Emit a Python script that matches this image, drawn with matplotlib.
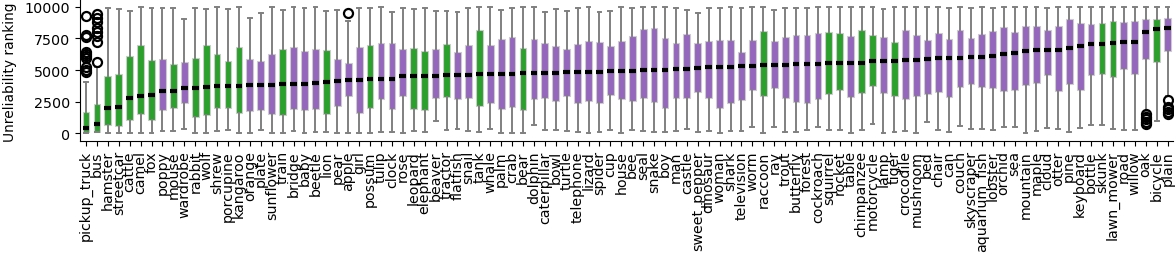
import matplotlib
matplotlib.use("Agg")
import matplotlib.pyplot as plt

classes = ["pickup_truck", "bus", "hamster", "streetcar", "cattle", "camel", "fox", "poppy", "mouse", "wardrobe",
           "rabbit", "wolf", "shrew", "porcupine", "kangaroo", "orange", "plate", "sunflower", "train", "bridge",
           "baby", "beetle", "lion", "pear", "apple", "girl", "possum", "tulip", "clock", "rose",
           "leopard", "elephant", "beaver", "tractor", "flatfish", "snail", "tank", "whale", "palm", "crab",
           "bear", "dolphin", "caterpillar", "bowl", "turtle", "telephone", "lizard", "spider", "cup", "house",
           "bee", "seal", "snake", "boy", "man", "castle", "sweet_pepper", "dinosaur", "woman", "shark",
           "television", "worm", "raccoon", "ray", "trout", "butterfly", "forest", "cockroach", "squirrel", "rocket",
           "table", "chimpanzee", "motorcycle", "lamp", "tiger", "crocodile", "mushroom", "bed", "chair", "can",
           "couch", "skyscraper", "aquarium_fish", "lobster", "orchid", "sea", "mountain", "maple", "cloud", "otter",
           "pine", "keyboard", "bottle", "skunk", "lawn_mower", "road", "willow", "oak", "bicycle", "plain"]

group = list("GGGGGGGPGP" "GGGGGPPPGP" "PPGPPPGPPP" "GGPGPPGPPP" "GPPPPPPPPP"
             "PPPPPPPPPP" "PPGPPPPPGG" "PGGPGPPPPP" "PPPPPPPPPP" "PPPGGPPPGP")

whislo = [0, 50, 0, 0, 0, 0, 0, 130, 130, 290,
          0, 0, 130, 265, 0, 0, 210, 0, 0, 130,
          0, 50, 50, 0, 0, 0, 0, 50, 50, 0,
          130, 50, 930, 210, 290, 130, 50, 290, 0, 0,
          0, 660, 210, 210, 130, 50, 0, 50, 210, 0,
          210, 130, 50, 50, 130, 290, 50, 130, 0, 130,
          130, 450, 0, 450, 50, 50, 210, 450, 210, 210,
          0, 210, 690, 0, 50, 130, 0, 850, 210, 50,
          530, 290, 290, 210, 450, 450, 0, 130, 370, 290,
          50, 370, 610, 610, 290, 210, 210, 1640, 930, 2910]
q1 = [53, 60, 635, 582, 1058, 1534, 1005, 1852, 1958, 2407,
      1243, 1402, 1958, 2011, 1561, 1772, 1852, 1534, 1455, 1878,
      1852, 1931, 1481, 2169, 2963, 1614, 1958, 2725, 1878, 2963,
      1878, 1799, 2804, 2884, 2672, 2804, 2169, 2407, 1931, 2090,
      1799, 2725, 2804, 2566, 2963, 2407, 2566, 2407, 3042, 2725,
      2566, 2804, 2487, 2011, 2804, 2804, 3280, 2804, 2011, 2407,
      2646, 3439, 2963, 3598, 2804, 2487, 2407, 2725, 3122, 3439,
      2884, 3201, 3757, 3201, 2963, 2725, 2963, 3122, 3280, 2884,
      3683, 3915, 3683, 3598, 3360, 3439, 3836, 3995, 4630, 3360,
      3915, 3439, 4630, 4709, 4471, 5106, 4709, 5847, 5661, 6534]
med = [370, 741, 2011, 2090, 2804, 2963, 3042, 3360, 3360, 3598,
       3598, 3677, 3757, 3757, 3757, 3836, 3836, 3836, 3915, 3915,
       3915, 3995, 4074, 4153, 4233, 4233, 4312, 4312, 4312, 4550,
       4550, 4550, 4550, 4630, 4630, 4630, 4709, 4709, 4709, 4709,
       4788, 4788, 4788, 4788, 4868, 4868, 4868, 4868, 4947, 4947,
       4947, 5026, 5026, 5026, 5106, 5106, 5185, 5265, 5265, 5265,
       5344, 5344, 5423, 5423, 5423, 5503, 5503, 5503, 5582, 5582,
       5582, 5582, 5741, 5741, 5741, 5820, 5820, 5899, 5979, 5979,
       5979, 6058, 6058, 6138, 6296, 6376, 6534, 6614, 6614, 6614,
       6772, 6931, 7090, 7090, 7169, 7249, 7249, 8042, 8280, 8360]
q3 = [1693, 2275, 4497, 4656, 6085, 6984, 5794, 5873, 5450, 5635,
      5926, 6984, 6270, 5714, 6799, 5847, 5714, 6270, 6667, 6799,
      6508, 6640, 6561, 5847, 5529, 6799, 6958, 7143, 7143, 6640,
      6720, 6481, 6640, 7037, 6402, 6958, 8148, 6958, 7434, 7593,
      6720, 7434, 7143, 6878, 6640, 7037, 7275, 7196, 6878, 7275,
      7672, 8228, 8307, 7513, 7143, 7831, 7143, 7275, 7354, 7354,
      6402, 7354, 8069, 7275, 7593, 7751, 7751, 7910, 7989, 7910,
      7672, 8148, 7751, 7593, 7196, 8148, 7751, 7354, 7910, 7434,
      8148, 7513, 7831, 8069, 8386, 7989, 8466, 8466, 8148, 8466,
      9021, 8704, 8624, 8704, 8862, 8783, 8862, 9021, 9021, 9101]
whishi = [4021, 5200, 9894, 9841, 9683, 10000, 9921, 9921, 9921, 9048,
          9921, 9841, 10000, 9841, 10000, 9127, 9524, 10000, 9762, 10000,
          9921, 10000, 9683, 9762, 8862, 9921, 9921, 10000, 9577, 9921,
          9841, 9921, 9683, 9683, 9577, 9921, 10000, 10000, 9762, 9921,
          10000, 10000, 9603, 9841, 9683, 9921, 10000, 9603, 9683, 10000,
          9921, 10000, 10000, 10000, 9921, 9762, 9524, 9921, 9921, 10000,
          9921, 10000, 10000, 9762, 9921, 9921, 9921, 10000, 10000, 10000,
          10000, 10000, 10000, 9841, 10000, 10000, 10000, 10000, 10000, 9921,
          10000, 9921, 10000, 9921, 10000, 10000, 10000, 10000, 9921, 10000,
          10000, 10000, 10000, 10000, 10000, 10000, 10000, 10000, 10000, 10000]
outliers = {
    "pickup_truck": [9260, 7780, 7620, 6460, 6270, 6080, 5930, 5210, 5030, 4870],
    "bus": [9420, 9100, 8840, 8310, 7990, 7670, 7250, 5610],
    "apple": [9500],
    "oak": [1500, 1300, 1100, 900, 700],
    "plain": [2650, 2100, 1900, 1700, 1500],
}

palette = {"G": "#2ca02c", "P": "#9467bd"}

fig = plt.figure(figsize=(11.76, 2.55), dpi=100)
ax = fig.add_axes([80 / 1176, 1 - 141.5 / 255, 1093 / 1176, 141.5 / 255])

stats = []
for i, name in enumerate(classes):
    stats.append(dict(label=name, whislo=whislo[i], q1=q1[i], med=med[i], q3=q3[i],
                      whishi=whishi[i], fliers=outliers.get(name, [])))

positions = list(range(len(classes)))
bp = ax.bxp(stats, positions=positions, widths=0.62, patch_artist=True, showfliers=True,
            boxprops=dict(edgecolor="#cccccc", linewidth=0.8),
            whiskerprops=dict(color="#808080", linewidth=1.4),
            capprops=dict(color="#808080", linewidth=1.4),
            medianprops=dict(color="black", linewidth=3.0, solid_capstyle="butt"),
            flierprops=dict(marker="o", markerfacecolor="none", markeredgecolor="black",
                            markersize=6.5, markeredgewidth=1.6, linestyle="none"),
            capwidths=0.35)
for patch, g in zip(bp["boxes"], group):
    patch.set_facecolor(palette[g])

ax.set_xlim(-0.55, 99.5)
ax.set_ylim(-590, 10630)
ax.set_yticks([0, 2500, 5000, 7500, 10000])
ax.set_xticks(positions)
ax.set_xticklabels(classes, rotation=90, fontsize=10.2)
ax.tick_params(axis="y", labelsize=10.3)
ax.set_ylabel("Unreliability ranking", fontsize=9.9)
ax.yaxis.set_label_coords(-0.058, 0.49)
ax.spines["top"].set_visible(False)
ax.spines["right"].set_visible(False)

fig.savefig("out.png", dpi=100)
